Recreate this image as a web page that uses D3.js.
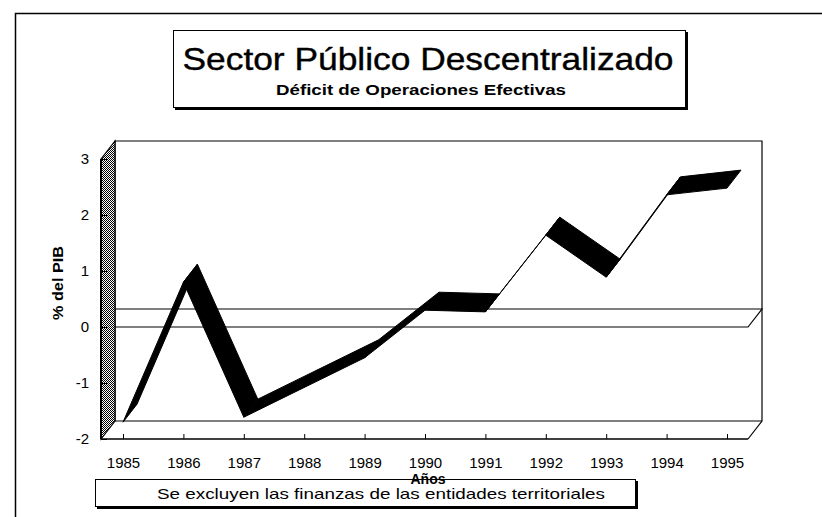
<!DOCTYPE html>
<html>
<head>
<meta charset="utf-8">
<script src="https://cdn.jsdelivr.net/npm/d3@7"></script>
<style>
html, body { margin: 0; padding: 0; background: #fff; overflow: hidden; }
svg { display: block; }
text { font-family: Arial, "Liberation Sans", sans-serif; fill: #000; }
</style>
</head>
<body>
<div id="chart"></div>
<script>
var years   = [1985, 1986, 1987, 1988, 1989, 1990, 1991, 1992, 1993, 1994, 1995];
var deficit = [-1.70, 0.80, -1.61, -1.08, -0.55, 0.30, 0.27, 1.64, 0.89, 2.36, 2.48];
var yTicks  = [-2, -1, 0, 1, 2, 3];

var titleText    = "Sector Público Descentralizado";
var subtitleText = "Déficit de Operaciones Efectivas";
var yLabel       = "% del PIB";
var xLabel       = "Años";
var noteText     = "Se excluyen las finanzas de las entidades territoriales";

var width  = 822;
var height = 517;
var depth  = {x: 14, y: -18};
var front  = {left: 101, right: 748, top: 159, bottom: 439};

var x = d3.scalePoint()
    .domain(years)
    .range([123, 727]);

var y = d3.scaleLinear()
    .domain([-2, 3])
    .range([front.bottom, front.top]);

var svg = d3.select("#chart")
    .append("svg")
    .attr("width", width)
    .attr("height", height);

// dither for the side wall
var pat = svg.append("defs").append("pattern")
    .attr("id", "dither")
    .attr("width", 2)
    .attr("height", 2)
    .attr("patternUnits", "userSpaceOnUse");
pat.append("rect").attr("width", 2).attr("height", 2).attr("fill", "#fff");
pat.append("rect").attr("width", 1).attr("height", 1).attr("fill", "#000");
pat.append("rect").attr("x", 1).attr("y", 1).attr("width", 1).attr("height", 1).attr("fill", "#000");

// outer frame (top and left only)
svg.append("path")
    .attr("d", "M15.5,517 L15.5,13.5 L822,13.5")
    .attr("fill", "none")
    .attr("stroke", "#000")
    .attr("stroke-width", 1.5);

// title box
svg.append("rect")
    .attr("x", 175).attr("y", 32)
    .attr("width", 513).attr("height", 78)
    .attr("fill", "#000");
svg.append("rect")
    .attr("x", 173.5).attr("y", 30.5)
    .attr("width", 512).attr("height", 77)
    .attr("fill", "#fff")
    .attr("stroke", "#000");

svg.append("text")
    .attr("x", 428)
    .attr("y", 70)
    .attr("text-anchor", "middle")
    .attr("font-size", 32)
    .attr("textLength", 491)
    .attr("lengthAdjust", "spacingAndGlyphs")
    .attr("stroke", "#000")
    .attr("stroke-width", 0.4)
    .text(titleText);

svg.append("text")
    .attr("x", 421)
    .attr("y", 95)
    .attr("text-anchor", "middle")
    .attr("font-size", 14)
    .attr("font-weight", "bold")
    .attr("textLength", 290)
    .attr("lengthAdjust", "spacingAndGlyphs")
    .text(subtitleText);

var plot = svg.append("g");

// back wall
plot.append("path")
    .attr("d", "M" + (front.left + depth.x) + "," + (front.bottom + depth.y) +
               " L" + (front.left + depth.x) + "," + (front.top + depth.y) +
               " L" + (front.right + depth.x) + "," + (front.top + depth.y) +
               " L" + (front.right + depth.x) + "," + (front.bottom + depth.y) +
               " L" + front.right + "," + front.bottom)
    .attr("fill", "none")
    .attr("stroke", "#000")
    .attr("stroke-width", 1.2);

// floor back edge
plot.append("line")
    .attr("x1", front.left + depth.x).attr("x2", front.right + depth.x)
    .attr("y1", front.bottom + depth.y).attr("y2", front.bottom + depth.y)
    .attr("stroke", "#000")
    .attr("stroke-width", 1.2);

// zero plane
plot.append("path")
    .attr("d", "M" + front.left + "," + y(0) +
               " L" + front.right + "," + y(0) +
               " L" + (front.right + depth.x) + "," + (y(0) + depth.y) +
               " L" + (front.left + depth.x) + "," + (y(0) + depth.y))
    .attr("fill", "none")
    .attr("stroke", "#000")
    .attr("stroke-width", 1.2);

// side wall
plot.append("path")
    .attr("d", "M" + front.left + "," + front.top +
               " L" + (front.left + depth.x) + "," + (front.top + depth.y) +
               " L" + (front.left + depth.x) + "," + (front.bottom + depth.y) +
               " L" + front.left + "," + front.bottom + " Z")
    .attr("fill", "url(#dither)")
    .attr("stroke", "#000")
    .attr("stroke-width", 1.2);

// ribbon
var pts = years.map(function(d, i) { return [x(d), y(deficit[i])]; });
var segs = d3.pairs(pts);

plot.selectAll(".seg")
    .data(segs)
    .enter().append("path")
    .attr("class", "seg")
    .attr("d", function(d) {
        var a = d[0], b = d[1];
        return "M" + a[0] + "," + a[1] +
               " L" + b[0] + "," + b[1] +
               " L" + (b[0] + depth.x) + "," + (b[1] + depth.y) +
               " L" + (a[0] + depth.x) + "," + (a[1] + depth.y) + " Z";
    })
    .attr("fill", "#000")
    .attr("stroke", "#000")
    .attr("stroke-width", 1)
    .attr("stroke-linejoin", "round");

// axes
var xAxis = d3.axisBottom(x)
    .tickSizeInner(-5)
    .tickSizeOuter(0)
    .tickPadding(18);

var gx = plot.append("g")
    .attr("transform", "translate(0," + front.bottom + ")")
    .call(xAxis);
gx.select(".domain").remove();
gx.selectAll("line").attr("stroke", "#000");
gx.selectAll("text")
    .attr("font-size", 15)
    .attr("font-family", "Arial, 'Liberation Sans', sans-serif")
    .attr("fill", "#000");

plot.append("line")
    .attr("x1", front.left).attr("x2", front.right)
    .attr("y1", front.bottom).attr("y2", front.bottom)
    .attr("stroke", "#000")
    .attr("stroke-width", 1.5);

var yAxis = d3.axisLeft(y)
    .tickValues(yTicks)
    .tickFormat(function(d) { return String(d); })
    .tickSizeInner(-6)
    .tickSizeOuter(0)
    .tickPadding(12);

var gy = plot.append("g")
    .attr("transform", "translate(" + front.left + ",0)")
    .call(yAxis);
gy.select(".domain").remove();
gy.selectAll("line").attr("stroke", "#000");
gy.selectAll("text")
    .attr("font-size", 15)
    .attr("font-family", "Arial, 'Liberation Sans', sans-serif")
    .attr("fill", "#000");

plot.append("line")
    .attr("x1", front.left).attr("x2", front.left)
    .attr("y1", front.top).attr("y2", front.bottom)
    .attr("stroke", "#000")
    .attr("stroke-width", 2);

svg.append("text")
    .attr("transform", "translate(63,283) rotate(-90)")
    .attr("text-anchor", "middle")
    .attr("font-size", 15)
    .attr("font-weight", "bold")
    .attr("textLength", 74)
    .attr("lengthAdjust", "spacingAndGlyphs")
    .text(yLabel);

// footnote box
svg.append("rect")
    .attr("x", 97).attr("y", 481)
    .attr("width", 541).attr("height", 28)
    .attr("fill", "#000");
svg.append("rect")
    .attr("x", 95.5).attr("y", 479.5)
    .attr("width", 540).attr("height", 27)
    .attr("fill", "#fff")
    .attr("stroke", "#000");

svg.append("text")
    .attr("x", 157)
    .attr("y", 499)
    .attr("font-size", 15)
    .attr("textLength", 448)
    .attr("lengthAdjust", "spacingAndGlyphs")
    .text(noteText);

svg.append("text")
    .attr("x", 428)
    .attr("y", 484)
    .attr("text-anchor", "middle")
    .attr("font-size", 14)
    .attr("font-weight", "bold")
    .text(xLabel);
</script>
</body>
</html>
